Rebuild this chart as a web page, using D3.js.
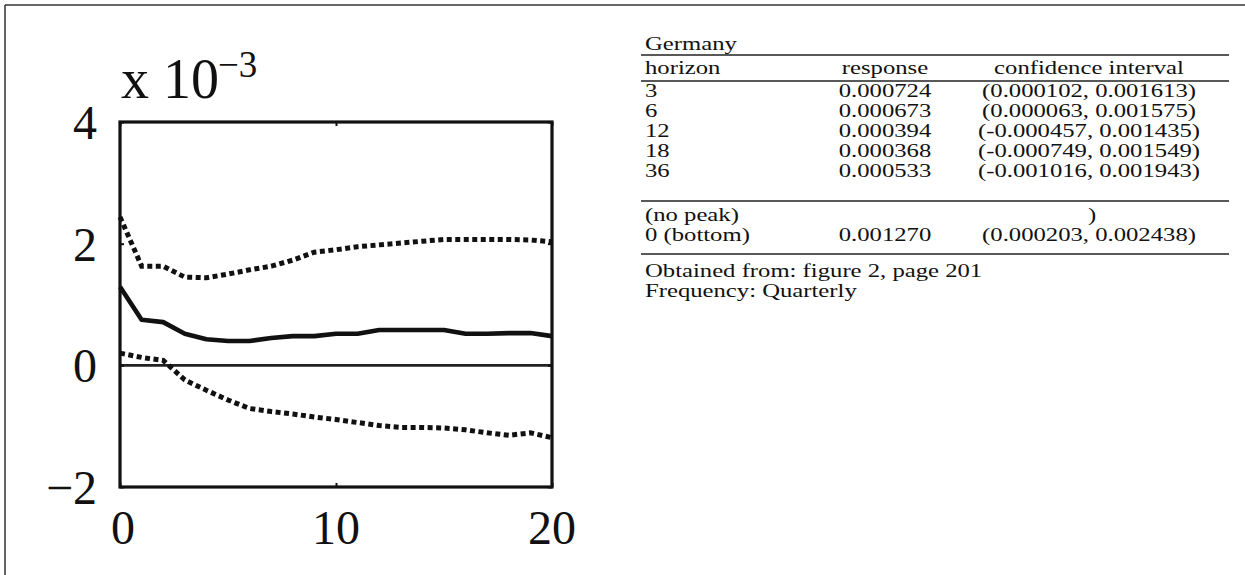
<!DOCTYPE html>
<html>
<head>
<meta charset="utf-8">
<script src="https://cdn.jsdelivr.net/npm/d3@7/dist/d3.min.js"></script>
<style>
  body { margin: 0; background: #fff; }
  svg text { fill: #111; }
</style>
</head>
<body>
<svg id="chart" width="1245" height="575"></svg>
<script>
// impulse response, values in units of 1e-3
const steps = [0, 1, 2, 3, 4, 5, 6, 7, 8, 9, 10, 11, 12, 13, 14, 15, 16, 17, 18, 19, 20];
const response = [1.29, 0.75, 0.71, 0.52, 0.43, 0.40, 0.40, 0.45, 0.48, 0.48, 0.52, 0.52, 0.58, 0.58, 0.58, 0.58, 0.52, 0.52, 0.53, 0.53, 0.48];
const upper = [2.44, 1.63, 1.63, 1.45, 1.44, 1.50, 1.57, 1.63, 1.73, 1.86, 1.90, 1.95, 1.98, 2.01, 2.04, 2.07, 2.07, 2.07, 2.07, 2.06, 2.03];
const lower = [0.20, 0.13, 0.08, -0.24, -0.41, -0.57, -0.71, -0.76, -0.80, -0.85, -0.89, -0.94, -0.99, -1.02, -1.02, -1.03, -1.06, -1.11, -1.15, -1.11, -1.19];
const xTicks = [0, 10, 20];
const yTicks = [-2, 0, 2, 4];

// table on the right
const tableTitle = 'Germany';
const tableHeader = ['horizon', 'response', 'confidence interval'];
const tableHorizons = ['3', '6', '12', '18', '36'];
const tableResponse = ['0.000724', '0.000673', '0.000394', '0.000368', '0.000533'];
const tableInterval = ['(0.000102, 0.001613)', '(0.000063, 0.001575)', '(-0.000457, 0.001435)', '(-0.000749, 0.001549)', '(-0.001016, 0.001943)'];
const peakRow = ['(no peak)', '', ')'];
const bottomRow = ['0 (bottom)', '0.001270', '(0.000203, 0.002438)'];
const notes = ['Obtained from: figure 2, page 201', 'Frequency: Quarterly'];

const svg = d3.select('#chart');

// page frame (top and left edges only)
svg.append('line').attr('x1', 5).attr('y1', 5).attr('x2', 1245).attr('y2', 5)
  .attr('stroke', '#333').attr('stroke-width', 1.5);
svg.append('line').attr('x1', 5).attr('y1', 5).attr('x2', 5).attr('y2', 575)
  .attr('stroke', '#333').attr('stroke-width', 1.5);

const x = d3.scaleLinear().domain([0, 20]).range([120, 552]);
const y = d3.scaleLinear().domain([-2, 4]).range([487, 122]);

const serif = '"Liberation Serif", "Times New Roman", serif';

// zero line
svg.append('line')
  .attr('x1', x(0)).attr('x2', x(20)).attr('y1', y(0)).attr('y2', y(0))
  .attr('stroke', '#222').attr('stroke-width', 2.6);

const line = d3.line()
  .x((d, i) => x(steps[i]))
  .y(d => y(d))
  .curve(d3.curveLinear);

svg.append('path').attr('d', line(upper))
  .attr('fill', 'none').attr('stroke', '#111').attr('stroke-width', 5)
  .attr('stroke-dasharray', '5,3.5');
svg.append('path').attr('d', line(lower))
  .attr('fill', 'none').attr('stroke', '#111').attr('stroke-width', 5)
  .attr('stroke-dasharray', '5,3.5');
svg.append('path').attr('d', line(response))
  .attr('fill', 'none').attr('stroke', '#111').attr('stroke-width', 4.6)
  .attr('stroke-linejoin', 'round');

// axes box
svg.append('rect')
  .attr('x', x(0)).attr('y', y(4))
  .attr('width', x(20) - x(0)).attr('height', y(-2) - y(4))
  .attr('fill', 'none').attr('stroke', '#111').attr('stroke-width', 3.2);

// inward ticks
const xAxisB = d3.axisBottom(x).tickValues(xTicks).tickSizeInner(-4).tickSizeOuter(0).tickFormat('');
const xAxisT = d3.axisTop(x).tickValues(xTicks).tickSizeInner(-4).tickSizeOuter(0).tickFormat('');
const yAxisL = d3.axisLeft(y).tickValues(yTicks).tickSizeInner(-4).tickSizeOuter(0).tickFormat('');
const yAxisR = d3.axisRight(y).tickValues(yTicks).tickSizeInner(-4).tickSizeOuter(0).tickFormat('');
[[xAxisB, `translate(0,${y(-2)})`], [xAxisT, `translate(0,${y(4)})`],
 [yAxisL, `translate(${x(0)},0)`], [yAxisR, `translate(${x(20)},0)`]].forEach(([ax, tr]) => {
  const g = svg.append('g').attr('transform', tr).call(ax);
  g.select('.domain').remove();
  g.selectAll('line').attr('stroke', '#111').attr('stroke-width', 2);
});

// tick labels
svg.selectAll('.ylab').data(yTicks).join('text')
  .attr('class', 'ylab')
  .attr('x', 97).attr('y', d => y(d) + 17)
  .attr('text-anchor', 'end')
  .style('font-family', serif).style('font-size', '48px')
  .text(d => d < 0 ? '\u2212' + Math.abs(d) : d);
svg.selectAll('.xlab').data(xTicks).join('text')
  .attr('class', 'xlab')
  .attr('x', d => x(d) + (d === 0 ? 3 : 0)).attr('y', 544)
  .attr('text-anchor', 'middle')
  .style('font-family', serif).style('font-size', '48px')
  .text(d => d);

// exponent label
svg.append('text').attr('x', 121).attr('y', 98)
  .style('font-family', serif).style('font-size', '56px')
  .text('x 10');
svg.append('text').attr('x', 218).attr('y', 77)
  .style('font-family', serif).style('font-size', '37px')
  .text('\u22123');

// table
const tg = svg.append('g').style('font-family', serif).style('font-size', '19px');
const sx = 1.3;
function cell(px, py, s, anchor) {
  tg.append('text')
    .attr('transform', `translate(${px},${py}) scale(${sx},1)`)
    .attr('text-anchor', anchor)
    .text(s);
}
function rule(py) {
  tg.append('line').attr('x1', 641).attr('x2', 1229).attr('y1', py).attr('y2', py)
    .attr('stroke', '#222').attr('stroke-width', 1.4);
}
const colL = 645, colR = 885, colC = 1089;

cell(colL, 50, tableTitle, 'start');
rule(55);
cell(colL, 74, tableHeader[0], 'start');
cell(colR, 74, tableHeader[1], 'middle');
cell(colC, 74, tableHeader[2], 'middle');
rule(81);
tableHorizons.forEach((h, i) => {
  const by = 97 + 20 * i;
  cell(colL, by, h, 'start');
  cell(colR, by, tableResponse[i], 'middle');
  cell(colC, by, tableInterval[i], 'middle');
});
rule(201);
cell(colL, 221, peakRow[0], 'start');
cell(1092, 221, peakRow[2], 'middle');
cell(colL, 241, bottomRow[0], 'start');
cell(colR, 241, bottomRow[1], 'middle');
cell(colC, 241, bottomRow[2], 'middle');
rule(254);
cell(colL, 277, notes[0], 'start');
cell(colL, 297, notes[1], 'start');
</script>
</body>
</html>
